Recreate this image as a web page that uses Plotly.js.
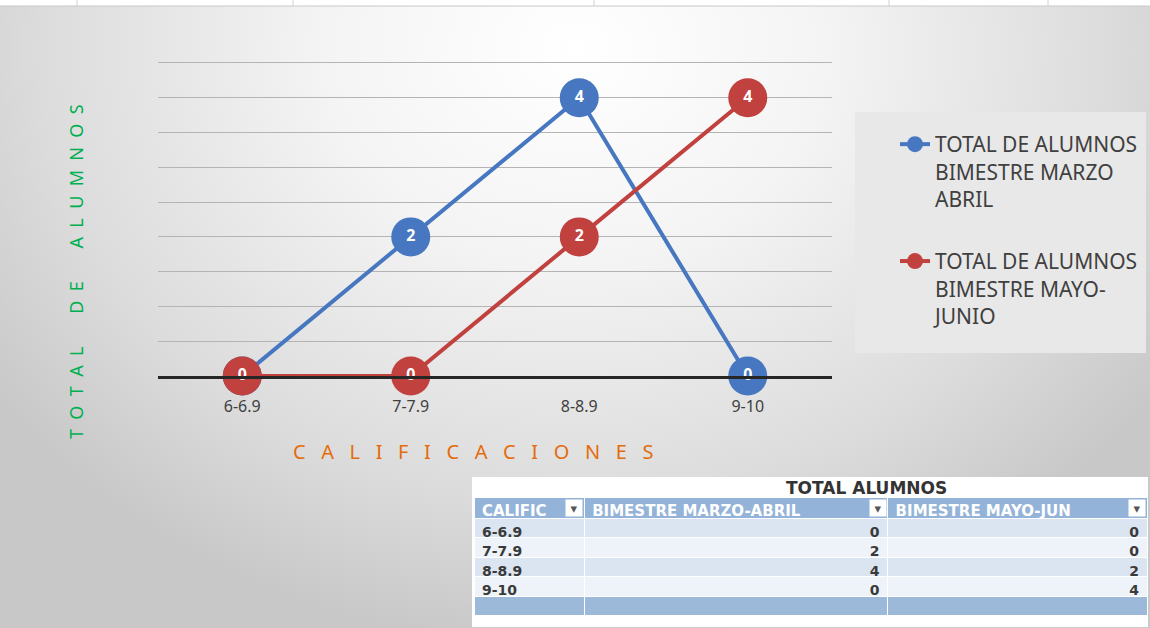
<!DOCTYPE html>
<html>
<head>
<meta charset="utf-8">
<script src="https://cdn.plot.ly/plotly-3.0.1.min.js"></script>
<style>
  html, body { margin: 0; padding: 0; }
  #chart {
    width: 1150px; height: 628px;
    background: radial-gradient(ellipse 62% 95% at 50% 8%, #ffffff 0%, #f4f4f4 35%, #dcdcdc 75%, #c8c8c8 100%);
  }
</style>
</head>
<body>
<div id="chart"></div>
<script>
// ---- data ----
const categories = ["6-6.9", "7-7.9", "8-8.9", "9-10"];
const marzoAbril = [0, 2, 4, 0];
const mayoJunio = [0, 0, 2, 4];
const seriesNames = [
  "TOTAL DE ALUMNOS<br>BIMESTRE MARZO<br>ABRIL",
  "TOTAL DE ALUMNOS<br>BIMESTRE MAYO-<br>JUNIO"
];
const xTitle = "CALIFICACIONES";
const yTitle = "TOTAL DE ALUMNOS";
const tableTitle = "TOTAL ALUMNOS";
const tableHeaders = ["CALIFIC", "BIMESTRE MARZO-ABRIL", "BIMESTRE MAYO-JUN"];

// ---- helpers ----
const W = 1150, H = 628;
const px = v => v / W;
const py = v => 1 - v / H;
function spaced(str, gap, wordGap) {
  return str.split(" ").map(w => w.split("").join(gap)).join(wordGap);
}
const nb = n => "\u00a0".repeat(n);

const blue = "#4677c0";
const red = "#c1413f";

function lineTrace(y, name, color, group) {
  return {
    type: "scatter",
    mode: "lines+markers+text",
    x: categories,
    y: y,
    name: name,
    legendgroup: group,
    text: y.map(String),
    textposition: "middle center",
    textfont: { family: "Noto Sans", size: 16, color: "#ffffff", weight: "bold" },
    line: { color: color, width: 4 },
    marker: { color: color, size: 39, line: { width: 0 } },
    cliponaxis: false,
    hoverinfo: "x+y+name"
  };
}

// table rows (last row is the empty total row)
const rowLabels = categories.concat([""]);
const colA = marzoAbril.map(String).concat([""]);
const colB = mayoJunio.map(String).concat([""]);
const rowFills = ["#dbe5f1", "#eef3f9", "#dbe5f1", "#eef3f9", "#9cb9da"];

const tableTrace = {
  type: "table",
  domain: { x: [px(474), px(1147)], y: [0, py(497)] },
  columnwidth: [110, 303, 259],
  header: {
    values: tableHeaders,
    align: "left",
    height: 21,
    fill: { color: "#94b3d8" },
    line: { color: "#ffffff", width: 1 },
    font: { family: "DejaVu Sans", size: 15, color: "#ffffff", weight: "bold" }
  },
  cells: {
    values: [rowLabels, colA, colB],
    align: ["left", "right", "right"],
    height: 19.5,
    fill: { color: [rowFills, rowFills, rowFills] },
    line: { color: "#ffffff", width: 1 },
    font: { family: "DejaVu Sans", size: 14, color: "#3a3a3a", weight: "bold" }
  }
};

const data = [
  lineTrace(marzoAbril, seriesNames[0], blue, "a"),
  lineTrace(mayoJunio, seriesNames[1], red, "b"),
  tableTrace
];

const shapes = [
  // spreadsheet strip at the top
  { type: "rect", xref: "paper", yref: "paper", x0: 0, x1: 1, y0: py(6), y1: 1,
    fillcolor: "#ffffff", line: { width: 0 }, layer: "below" },
  { type: "line", xref: "paper", yref: "paper", x0: 0, x1: 1, y0: py(6), y1: py(6),
    line: { color: "#c8c8c8", width: 1 }, layer: "below" }
].concat([77, 293, 594, 889, 1048].map(x => ({
  type: "line", xref: "paper", yref: "paper", x0: px(x), x1: px(x), y0: py(6), y1: 1,
  line: { color: "#d0d0d0", width: 1 }, layer: "below"
}))).concat([
  // legend panel
  { type: "rect", xref: "paper", yref: "paper", x0: px(855), x1: px(1146), y0: py(353), y1: py(112),
    fillcolor: "#e8e8e8", line: { width: 0 }, layer: "below" },
  // table title row
  { type: "rect", xref: "paper", yref: "paper", x0: px(472), x1: px(1148), y0: py(627), y1: py(477),
    fillcolor: "#ffffff", line: { width: 0 }, layer: "below" }
]);

const arrowBoxes = [574, 878, 1137].map(x => ({
  xref: "paper", yref: "paper", x: px(x), y: py(507.5), xanchor: "center", yanchor: "middle",
  text: "\u25BE", showarrow: false,
  font: { family: "DejaVu Sans", size: 13, color: "#555555" },
  bgcolor: "#ffffff", width: 16, height: 16, borderpad: 0
}));

const layout = {
  width: W, height: H,
  margin: { l: 0, r: 0, t: 0, b: 0, pad: 0 },
  paper_bgcolor: "rgba(0,0,0,0)",
  plot_bgcolor: "rgba(0,0,0,0)",
  font: { family: "Noto Sans", color: "#404040" },
  showlegend: true,
  legend: {
    x: px(895), y: py(124), xanchor: "left", yanchor: "top",
    bgcolor: "rgba(0,0,0,0)", borderwidth: 0,
    font: { family: "Noto Sans", size: 21, color: "#404040" },
    valign: "top", tracegroupgap: 32, traceorder: "grouped"
  },
  xaxis: {
    domain: [px(158), px(832)],
    type: "category",
    range: [-0.5, 3.5],
    showgrid: false, zeroline: false,
    showline: true, linecolor: "#262626", linewidth: 3,
    ticks: "", ticklabelstandoff: 14,
    tickfont: { family: "Noto Sans", size: 16, color: "#404040" },
    automargin: false
  },
  yaxis: {
    domain: [py(376), py(61.6)],
    range: [0, 4.52], dtick: 0.5,
    showticklabels: false, ticks: "",
    showgrid: true, gridcolor: "#b4b4b4", gridwidth: 1,
    zeroline: false, showline: false,
    automargin: false
  },
  shapes: shapes,
  annotations: [
    { xref: "paper", yref: "paper", x: px(473), y: py(451), xanchor: "center", yanchor: "middle",
      text: spaced(xTitle, nb(3), nb(6)), showarrow: false,
      font: { family: "Noto Sans", size: 20, color: "#e46c0a" } },
    { xref: "paper", yref: "paper", x: px(76), y: py(272), xanchor: "center", yanchor: "middle",
      text: spaced(yTitle, nb(2), nb(7)), showarrow: false, textangle: -90,
      font: { family: "Noto Sans", size: 18, color: "#00b050" } },
    { xref: "paper", yref: "paper", x: px(866), y: py(488), xanchor: "center", yanchor: "middle",
      text: tableTitle, showarrow: false,
      font: { family: "DejaVu Sans", size: 17, color: "#333333", weight: "bold" } }
  ].concat(arrowBoxes)
};

Plotly.newPlot("chart", data, layout, { displayModeBar: false, responsive: false });
</script>
</body>
</html>
